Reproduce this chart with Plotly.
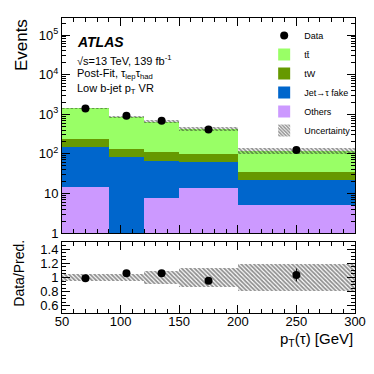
import plotly.graph_objects as go

# bins in pT(tau) [GeV]
bin_lo = [50, 90, 120, 150, 200]
bin_hi = [90, 120, 150, 200, 300]
centers = [(a + b) / 2 for a, b in zip(bin_lo, bin_hi)]
widths = [b - a for a, b in zip(bin_lo, bin_hi)]

# background yields (post-fit), per bin
others = [14.6, 0.0, 7.6, 13.8, 5.1]
jet_fake = [135, 85, 59, 48, 17]
tw = [90, 49, 45, 38, 13]
ttbar = [1160, 736, 533, 329, 86]

data = [1390, 920, 685, 410, 125]
data_err = [37, 30, 26, 20, 11]
rel_unc = [0.055, 0.055, 0.09, 0.13, 0.19]
ratio = [0.99, 1.06, 1.06, 0.955, 1.035]
ratio_err = [0.027, 0.035, 0.04, 0.047, 0.09]

total = [a + b + c + d for a, b, c, d in zip(others, jet_fake, tw, ttbar)]

FONT = "Liberation Sans, Arial, sans-serif"
HATCH = dict(shape="\\", fgcolor="#222", bgcolor="rgba(0,0,0,0)", size=3, solidity=0.6)

fig = go.Figure()

base = [0.0] * 5
stack = [
    ("Others", others, "#CC99FF", 5),
    ("Jet\u2192\u03c4 fake", jet_fake, "#0066CC", 4),
    ("tW", tw, "#669900", 3),
    ("tt\u0304", ttbar, "#99FF66", 2),
]
for name, vals, col, rank in stack:
    fig.add_trace(go.Bar(
        x=centers, y=vals, base=list(base), width=widths, name=name,
        marker=dict(color=col, line=dict(width=0)), legendrank=rank,
        xaxis="x", yaxis="y",
    ))
    base = [b + v for b, v in zip(base, vals)]

# uncertainty band, main panel
fig.add_trace(go.Bar(
    x=centers, y=[t * 2 * u for t, u in zip(total, rel_unc)],
    base=[t * (1 - u) for t, u in zip(total, rel_unc)], width=widths,
    name="Uncertainty", legendrank=6,
    marker=dict(color="rgba(0,0,0,0)", line=dict(width=0), pattern=HATCH),
    xaxis="x", yaxis="y",
))

fig.add_trace(go.Scatter(
    x=centers, y=data, mode="markers", name="Data", legendrank=1,
    marker=dict(color="black", size=8),
    error_y=dict(type="data", array=data_err, color="black", thickness=1, width=0),
    xaxis="x", yaxis="y",
))

# ratio panel
fig.add_trace(go.Bar(
    x=centers, y=[2 * u for u in rel_unc], base=[1 - u for u in rel_unc],
    width=widths, showlegend=False,
    marker=dict(color="rgba(0,0,0,0)", line=dict(width=0), pattern=HATCH),
    xaxis="x2", yaxis="y2",
))
fig.add_trace(go.Scatter(
    x=centers, y=ratio, mode="markers", showlegend=False,
    marker=dict(color="black", size=8),
    error_y=dict(type="data", array=ratio_err, color="black", thickness=1, width=0),
    xaxis="x2", yaxis="y2",
))

ax_common = dict(
    showline=True, linecolor="black", linewidth=1, mirror="allticks",
    ticks="inside", ticklen=8, tickcolor="black", showgrid=False, zeroline=False,
    tickfont=dict(family=FONT, size=13, color="black"), automargin=False,
)

# page body has an 8px margin, so the figure is 8px smaller and shifted
fig.update_layout(
    width=366, height=366,
    margin=dict(l=54, r=19, t=10, b=61, autoexpand=False),
    paper_bgcolor="white", plot_bgcolor="white",
    barmode="overlay", bargap=0,
    font=dict(family=FONT, color="black"),
    xaxis=dict(**ax_common, range=[50, 300], domain=[0, 1], anchor="y",
               showticklabels=False, tickvals=[50, 100, 150, 200, 250, 300],
               minor=dict(ticks="inside", ticklen=4, dtick=10, tickcolor="black")),
    yaxis=dict(**ax_common, type="log", range=[0, 5.43], domain=[0.271, 1], anchor="x",
               tickvals=[1, 10, 100, 1000, 1e4, 1e5],
               ticktext=["1", "10", "10<sup>2</sup>", "10<sup>3</sup>", "10<sup>4</sup>", "10<sup>5</sup>"],
               minor=dict(ticks="inside", ticklen=4, dtick="D1", tickcolor="black")),
    xaxis2=dict(**ax_common, range=[50, 300], domain=[0, 1], anchor="y2",
                tickvals=[50, 100, 150, 200, 250, 300], ticklabelstandoff=-4,
                minor=dict(ticks="inside", ticklen=4, dtick=10, tickcolor="black")),
    yaxis2=dict(**ax_common, range=[0.5, 1.5], domain=[0, 0.241], anchor="x2",
                tickvals=[0.6, 0.8, 1.0, 1.2, 1.4],
                ticktext=["0.6", "0.8", "1", "1.2", "1.4"],
                minor=dict(ticks="inside", ticklen=4, dtick=0.05, tickcolor="black")),
    legend=dict(x=0.69, y=0.99, xanchor="left", yanchor="top",
                font=dict(family=FONT, size=9, color="black"),
                bgcolor="rgba(0,0,0,0)", traceorder="normal", tracegroupgap=0,
                itemwidth=30),
    showlegend=True,
)

ann = [
    dict(text="<b><i>ATLAS</i></b>", x=0.044, y=0.919, size=14),
    dict(text="\u221as=13 TeV, 139 fb<sup>-1</sup>", x=0.044, y=0.858, size=11),
    dict(text="Post-Fit, \u03c4<sub>lep</sub>\u03c4<sub>had</sub>", x=0.044, y=0.81, size=11),
    dict(text="Low b-jet p<sub>T</sub> VR", x=0.044, y=0.759, size=11),
]
for a in ann:
    fig.add_annotation(text=a["text"], xref="paper", yref="paper", x=a["x"], y=a["y"],
                       xanchor="left", yanchor="middle", showarrow=False,
                       font=dict(family=FONT, size=a["size"], color="black"))

fig.add_annotation(text="Events", xref="paper", yref="paper", x=-0.14, y=0.908,
                   textangle=-90, showarrow=False, xanchor="center", yanchor="middle",
                   font=dict(family=FONT, size=17, color="black"))
fig.add_annotation(text="Data/Pred.", xref="paper", yref="paper", x=-0.145, y=0.135,
                   textangle=-90, showarrow=False, xanchor="center", yanchor="middle",
                   font=dict(family=FONT, size=14, color="black"))
fig.add_annotation(text="p<sub>T</sub>(\u03c4) [GeV]", xref="paper", yref="paper", x=1.0, y=-0.09,
                   showarrow=False, xanchor="right", yanchor="middle",
                   font=dict(family=FONT, size=15, color="black"))

fig.write_html("out.html")
